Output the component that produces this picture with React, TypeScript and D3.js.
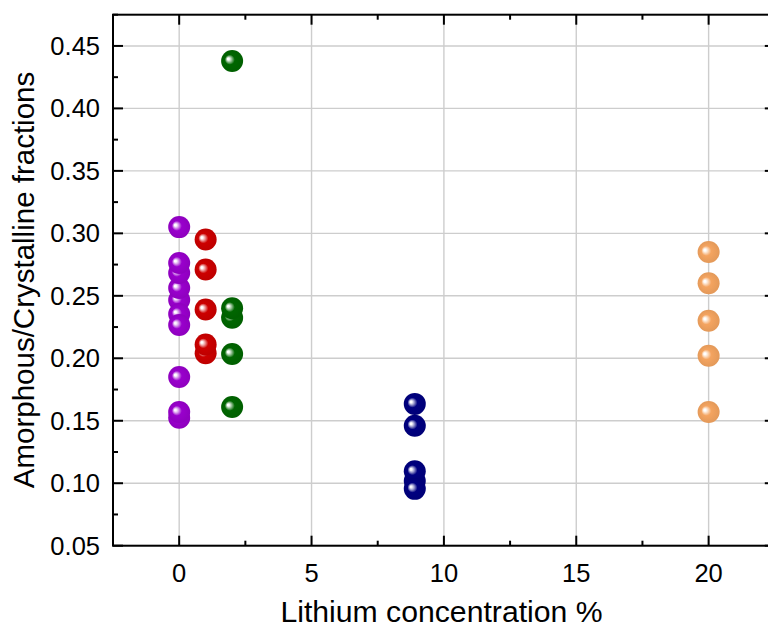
import React from "react";
import * as d3 from "d3";

const xTicks = [0, 5, 10, 15, 20];
const yTicks = [0.05, 0.1, 0.15, 0.2, 0.25, 0.3, 0.35, 0.4, 0.45];

const purpleX = [0, 0, 0, 0, 0, 0, 0, 0, 0, 0, 0];
const purpleY = [0.305, 0.2466, 0.2562, 0.2682, 0.2762, 0.2354, 0.2266, 0.185, 0.1525, 0.157];
const redX = [1, 1, 1, 1, 1];
const redY = [0.295, 0.271, 0.239, 0.204, 0.211];
const greenX = [2, 2, 2, 2, 2];
const greenY = [0.438, 0.2325, 0.24, 0.2035, 0.161];
const blueX = [8.9, 8.9, 8.9, 8.9, 8.9];
const blueY = [0.1635, 0.146, 0.1018, 0.1095, 0.0955];
const orangeX = [20, 20, 20, 20, 20];
const orangeY = [0.285, 0.26, 0.23, 0.202, 0.157];

const seriesNames = ["purple", "red", "green", "blue", "orange"];
const seriesColors = ["#9900cc", "#cc0000", "#006600", "#000080", "#f4a460"];
const seriesXs = [purpleX, redX, greenX, blueX, orangeX];
const seriesYs = [purpleY, redY, greenY, blueY, orangeY];

const W = 768;
const H = 632;
const left = 113;
const top = 14.7;
const right = 774.8;
const bottom = 545.7;
const font = "'Liberation Sans', Arial, Helvetica, sans-serif";

export default function App() {
  const x = d3.scaleLinear().domain([-2.5, 22.5]).range([left, right]);
  const y = d3.scaleLinear().domain([0.05, 0.475]).range([bottom, top]);
  const xMinor = d3.range(-2.5, 22.51, 2.5).filter((v) => !xTicks.includes(v));
  const yMinor = d3.range(0.075, 0.476, 0.05);
  const r = 11;

  return (
    <svg
      width={W}
      height={H}
      style={{ position: "absolute", left: 0, top: 0, background: "#fff" }}
    >
      <defs>
        {seriesNames.map((n, i) => {
          const c = d3.color(seriesColors[i])!;
          const light = d3.interpolateRgb(seriesColors[i], "#ffffff")(0.6);
          const dark = c.darker(0.2).formatHex();
          return (
            <radialGradient
              key={n}
              id={"g-" + n}
              cx="50%"
              cy="50%"
              r="50%"
              fx="31%"
              fy="40%"
            >
              <stop offset="0%" stopColor="#ffffff" />
              <stop offset="9%" stopColor="#ffffff" stopOpacity={0.95} />
              <stop offset="24%" stopColor={light} />
              <stop offset="45%" stopColor={seriesColors[i]} />
              <stop offset="100%" stopColor={dark} />
            </radialGradient>
          );
        })}
      </defs>
      {/* grid */}
      <g stroke="#cdcdcd" strokeWidth={1.4}>
        {xTicks.map((t) => (
          <line key={"gx" + t} x1={x(t)} x2={x(t)} y1={top} y2={bottom} />
        ))}
        {yTicks.map((t) => (
          <line key={"gy" + t} x1={left} x2={right} y1={y(t)} y2={y(t)} />
        ))}
      </g>
      {/* points */}
      {seriesNames.map((n, i) => (
        <g key={"s" + n}>
          {seriesYs[i].map((v, j) => (
            <circle
              key={j}
              cx={x(seriesXs[i][j])}
              cy={y(v)}
              r={r}
              fill={`url(#g-${n})`}
            />
          ))}
        </g>
      ))}
      {/* frame */}
      <rect
        x={left}
        y={top}
        width={right - left}
        height={bottom - top}
        fill="none"
        stroke="#000"
        strokeWidth={2}
      />
      {/* ticks */}
      <g stroke="#000" strokeWidth={2}>
        {xTicks.map((t) => (
          <g key={"tx" + t}>
            <line x1={x(t)} x2={x(t)} y1={bottom} y2={bottom - 10} />
            <line x1={x(t)} x2={x(t)} y1={top} y2={top + 10} />
          </g>
        ))}
        {xMinor.map((t) => (
          <g key={"mx" + t}>
            <line x1={x(t)} x2={x(t)} y1={bottom} y2={bottom - 5} />
            <line x1={x(t)} x2={x(t)} y1={top} y2={top + 5} />
          </g>
        ))}
        {yTicks.map((t) => (
          <g key={"ty" + t}>
            <line x1={left} x2={left + 10} y1={y(t)} y2={y(t)} />
            <line x1={right} x2={right - 10} y1={y(t)} y2={y(t)} />
          </g>
        ))}
        {yMinor.map((t) => (
          <g key={"my" + t}>
            <line x1={left} x2={left + 5} y1={y(t)} y2={y(t)} />
            <line x1={right} x2={right - 5} y1={y(t)} y2={y(t)} />
          </g>
        ))}
      </g>
      {/* tick labels */}
      <g fontFamily={font} fontSize={25.5} fill="#000">
        {xTicks.map((t) => (
          <text key={"lx" + t} x={x(t)} y={581.7} textAnchor="middle">
            {t}
          </text>
        ))}
        {yTicks.map((t) => (
          <text
            key={"ly" + t}
            x={100}
            y={y(t)}
            dy="0.35em"
            textAnchor="end"
          >
            {t.toFixed(2)}
          </text>
        ))}
      </g>
      <text
        x={441.5}
        y={621.7}
        textAnchor="middle"
        fontFamily={font}
        fontSize={30.2}
        fill="#000"
      >
        Lithium concentration %
      </text>
      <text
        transform={`translate(34,280) rotate(-90)`}
        textAnchor="middle"
        fontFamily={font}
        fontSize={29.5}
        fill="#000"
      >
        Amorphous/Crystalline fractions
      </text>
    </svg>
  );
}
